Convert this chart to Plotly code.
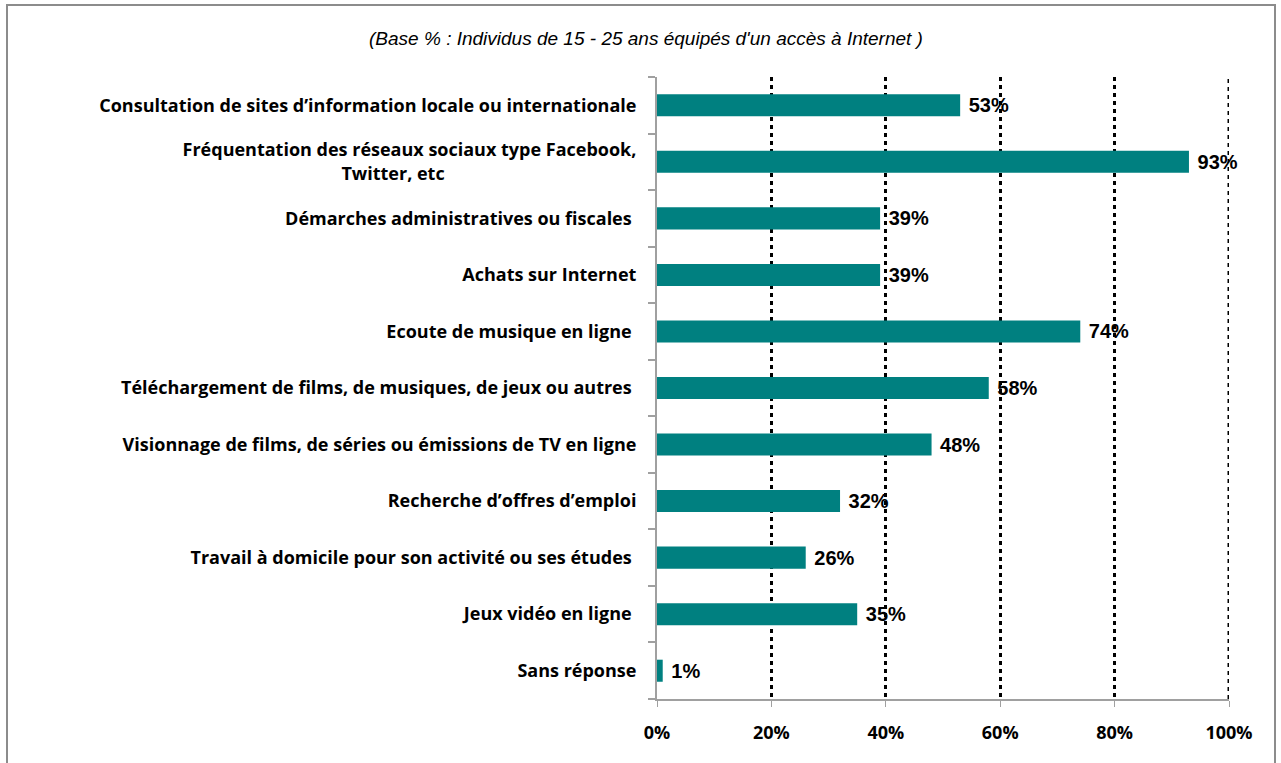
import plotly.graph_objects as go

categories = [
    "Consultation de sites d’information locale ou internationale",
    "Fréquentation des réseaux sociaux type Facebook,<br>Twitter, etc",
    "Démarches administratives ou fiscales ",
    "Achats sur Internet",
    "Ecoute de musique en ligne ",
    "Téléchargement de films, de musiques, de jeux ou autres ",
    "Visionnage de films, de séries ou émissions de TV en ligne",
    "Recherche d’offres d’emploi",
    "Travail à domicile pour son activité ou ses études ",
    "Jeux vidéo en ligne ",
    "Sans réponse",
]
values = [53, 93, 39, 39, 74, 58, 48, 32, 26, 35, 1]
labels = [f"{v}%" for v in values]
x_ticks = [0, 20, 40, 60, 80, 100]
x_ticklabels = [f"{t}%" for t in x_ticks]
subtitle = "(Base % : Individus de 15 - 25 ans équipés d'un accès à Internet )"

# tick text: centre the second line of the two-line label like the original
tick_text = list(categories)
tick_text[1] = tick_text[1] + "\u00a0" * 41

L, R, T, B = 657, 52, 77, 64
W, H = 1281, 763
PW, PH = W - L - R, H - T - B

fig = go.Figure()
fig.add_trace(go.Bar(
    y=categories, x=values, orientation="h",
    marker=dict(color="#008080", line=dict(width=0)),
    text=labels, texttemplate="\u00a0%{text}", textposition="outside",
    cliponaxis=False, constraintext="none",
    textfont=dict(family="Liberation Sans", size=20, color="#000000", weight="bold"),
    width=0.39,
))

fig.update_layout(
    width=W, height=H,
    margin=dict(l=L, r=R, t=T, b=B, autoexpand=False),
    paper_bgcolor="white", plot_bgcolor="white",
    showlegend=False,
    font=dict(family="Open Sans", color="#000000"),
    title=dict(text="<i>" + subtitle + "</i>", x=646 / W, xanchor="center",
               y=1 - 38 / H, yanchor="middle",
               font=dict(family="Liberation Sans", size=19, color="#000000")),
)

fig.update_xaxes(
    range=[0, 100], tickvals=x_ticks, ticktext=x_ticklabels,
    showgrid=True, gridcolor="#000000", griddash="4px,4px", gridwidth=3,
    zeroline=False, showline=True, linecolor="#a0a0a0", linewidth=2,
    ticks="outside", ticklen=6, tickcolor="#a0a0a0",
    tickfont=dict(family="Open Sans", size=18, color="#000000", weight="bold"),
    ticklabelstandoff=10, automargin=False,
)
fig.update_yaxes(
    autorange="reversed", type="category",
    tickvals=categories, ticktext=tick_text,
    showline=True, linecolor="#a0a0a0", linewidth=2,
    ticks="outside", ticklen=7, tickcolor="#a0a0a0", tickwidth=2, tickson="boundaries",
    showgrid=False,
    tickfont=dict(family="Open Sans", size=18, color="#000000", weight="bold"),
    ticklabelstandoff=15, automargin=False,
)

# dotted gridline at the 100% edge (plotly skips gridlines on the range end)
fig.add_shape(type="line", xref="x", yref="paper", x0=100, x1=100, y0=0, y1=1,
              line=dict(color="#000000", width=3, dash="4px,4px"), layer="above")

# outer frame
fig.add_shape(type="rect", xref="paper", yref="paper",
              x0=(7 - L) / PW, x1=(1275 - L) / PW,
              y0=-(790 - T - PH) / PH, y1=1 + (T - 5) / PH,
              line=dict(color="#8c8c8c", width=2), fillcolor="rgba(0,0,0,0)", layer="below")

fig.write_html("out.html", config={"displayModeBar": False},
               post_script="document.body.style.margin='0';")
